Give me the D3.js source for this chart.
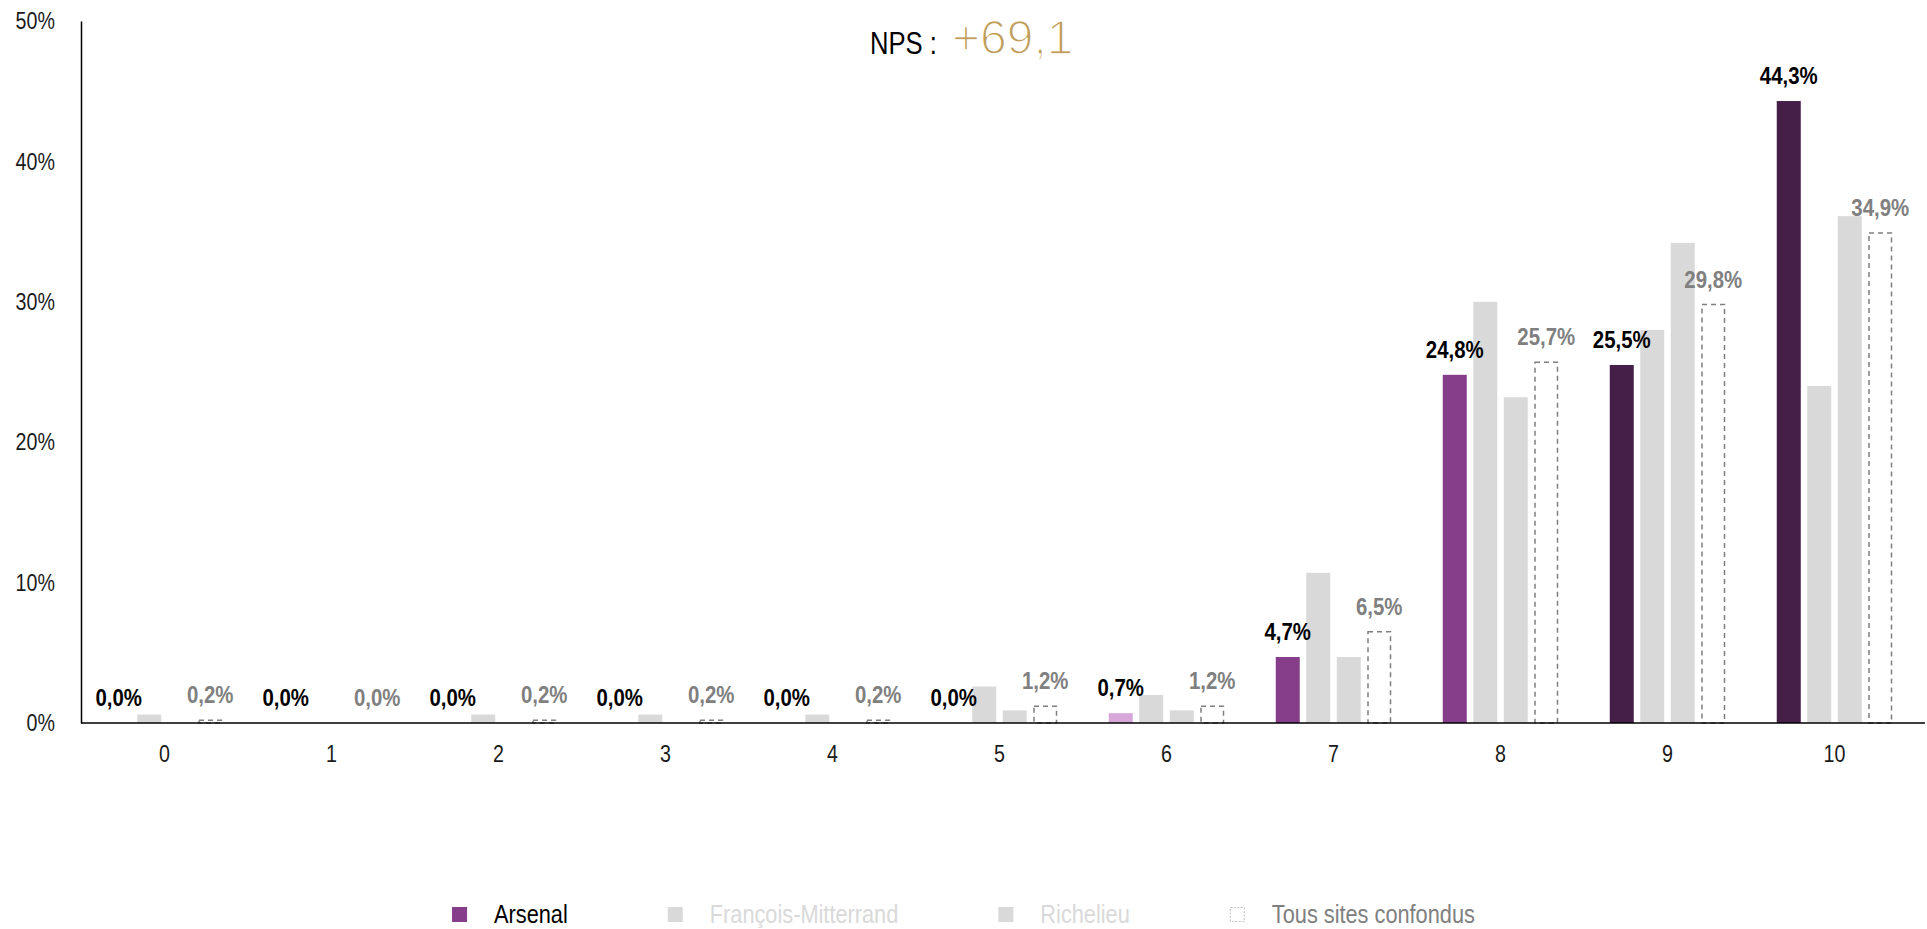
<!DOCTYPE html>
<html><head><meta charset="utf-8">
<script src="https://cdn.jsdelivr.net/npm/d3@7"></script>
<style>
html,body{margin:0;padding:0;background:#fff;}
svg{display:block;}
text{font-family:"Liberation Sans",Arial,sans-serif;}
</style></head>
<body>
<svg id="chart" width="1927" height="929"></svg>
<script>
const categories = ["0","1","2","3","4","5","6","7","8","9","10"];
const seriesNames = ["Arsenal","François-Mitterrand","Richelieu","Tous sites confondus"];
const arsenal   = [0.0, 0.0, 0.0, 0.0, 0.0, 0.0, 0.7, 4.7, 24.8, 25.5, 44.3];
const mitterrand= [0.6, 0.0, 0.6, 0.6, 0.6, 2.6, 2.0, 10.7, 30.0, 28.0, 24.0];
const richelieu = [0.0, 0.0, 0.0, 0.0, 0.0, 0.9, 0.9, 4.7, 23.2, 34.2, 36.1];
const tousSites = [0.2, 0.0, 0.2, 0.2, 0.2, 1.2, 1.2, 6.5, 25.7, 29.8, 34.9];
const yTicks = [0, 10, 20, 30, 40, 50];
const npsLabel = "NPS :";
const npsValue = "+69,1";

const seriesValues = [arsenal, mitterrand, richelieu, tousSites];
const fmt = v => v.toFixed(1).replace(".", ",") + "%";

// emulate a narrow typeface by horizontally scaling each text about its anchor
function condense(sel, k) {
  sel.each(function () {
    const t = d3.select(this);
    const x = +(t.attr("x") || 0), y = +(t.attr("y") || 0);
    t.attr("x", null).attr("y", null)
     .attr("transform", `translate(${x},${y}) scale(${k},1)`);
  });
}

const svg = d3.select("#chart");
const x = d3.scaleBand().domain(categories).range([81, 1918]).padding(0);
const xs = d3.scaleBand().domain(seriesNames).range([-57.75, 57.75]).paddingInner(0.213).paddingOuter(0);
const y = d3.scaleLinear().domain([0, 50]).range([723, 21]);

const arsenalColor = c => (+c <= 6 ? "#D8A7DA" : (+c <= 8 ? "#873E8A" : "#451F47"));
const greyFill = "#D9D9D9";

// y axis
const yAxis = svg.append("g").attr("transform", "translate(81,0)")
  .call(d3.axisLeft(y).tickValues(yTicks).tickSize(0).tickPadding(26).tickFormat(d => d + "%"));
yAxis.select(".domain").attr("stroke", "#000").attr("stroke-width", 1.5);
yAxis.selectAll("text").attr("font-size", 24).attr("fill", "#1a1a1a")
  .attr("font-family", "'Liberation Sans',Arial,sans-serif");
condense(yAxis.selectAll("text"), 0.82);

// bars
const labels = svg.append("g");
categories.forEach((c, i) => {
  const cx = x(c) + x.bandwidth() / 2;
  seriesNames.forEach((s, k) => {
    const v = seriesValues[k][i];
    const bx = cx + xs(s);
    const bw = xs.bandwidth();
    if (k === 3) {
      if (v > 0) {
        svg.append("rect").attr("x", bx + 0.75).attr("y", y(v)).attr("width", bw - 1.5)
          .attr("height", y(0) - y(v)).attr("fill", "#fff").attr("stroke", "#7F7F7F")
          .attr("stroke-width", 1.5).attr("stroke-dasharray", "5,4");
      }
    } else if (v > 0) {
      svg.append("rect").attr("x", bx).attr("y", y(v)).attr("width", bw)
        .attr("height", y(0) - y(v))
        .attr("fill", k === 0 ? arsenalColor(c) : greyFill);
    }
    if (k === 0 || k === 3) {
      labels.append("text").attr("x", bx + bw / 2).attr("y", y(v) - 17)
        .attr("text-anchor", "middle").attr("font-size", 24).attr("font-weight", "bold")
        .attr("fill", k === 0 ? "#000" : "#808080").text(fmt(v));
    }
  });
});
labels.raise();
condense(labels.selectAll("text"), 0.85);

// x axis
const xAxis = svg.append("g").attr("transform", "translate(0,723)")
  .call(d3.axisBottom(x).tickSize(0).tickPadding(22));
xAxis.select(".domain").attr("stroke", "#000").attr("stroke-width", 1.5)
  .attr("d", "M81,0H1925");
xAxis.selectAll("text").attr("font-size", 24).attr("fill", "#1a1a1a")
  .attr("font-family", "'Liberation Sans',Arial,sans-serif");
condense(xAxis.selectAll("text"), 0.82);

// title
const t1 = svg.append("text").attr("x", 870).attr("y", 54).attr("font-size", 32)
  .attr("fill", "#000").text(npsLabel);
condense(t1, 0.8);
svg.append("text").attr("x", 952).attr("y", 54).attr("font-size", 48).attr("font-weight", 300)
  .attr("font-family", "Roboto, 'Open Sans', sans-serif").attr("fill", "#BF9D5A")
  .attr("stroke", "#fff").attr("stroke-width", 1.6).attr("paint-order", "fill")
  .text(npsValue);

// legend
const legendColors = ["#873E8A", greyFill, greyFill, null];
const legendText = ["#000", "#D9D9D9", "#D9D9D9", "#808080"];
const lg = svg.append("g");
let cursor = 0;
const lk = 0.87;
seriesNames.forEach((s, k) => {
  const g = lg.append("g").attr("transform", `translate(${cursor},0)`);
  if (legendColors[k]) {
    g.append("rect").attr("x", 0).attr("y", 907).attr("width", 15).attr("height", 15).attr("fill", legendColors[k]);
  } else {
    g.append("rect").attr("x", 0.5).attr("y", 907.5).attr("width", 14).attr("height", 14)
      .attr("fill", "none").attr("stroke", "#BFBFBF").attr("stroke-width", 1).attr("stroke-dasharray", "2,1.5");
  }
  const t = g.append("text").attr("x", 42).attr("y", 923).attr("font-size", 25)
    .attr("fill", legendText[k]).text(s);
  const w = t.node().getComputedTextLength() * lk;
  condense(t, lk);
  cursor += 42 + w + 100;
});
const total = cursor - 100;
lg.attr("transform", `translate(${(1927 - total) / 2},0)`);
</script>
</body></html>
